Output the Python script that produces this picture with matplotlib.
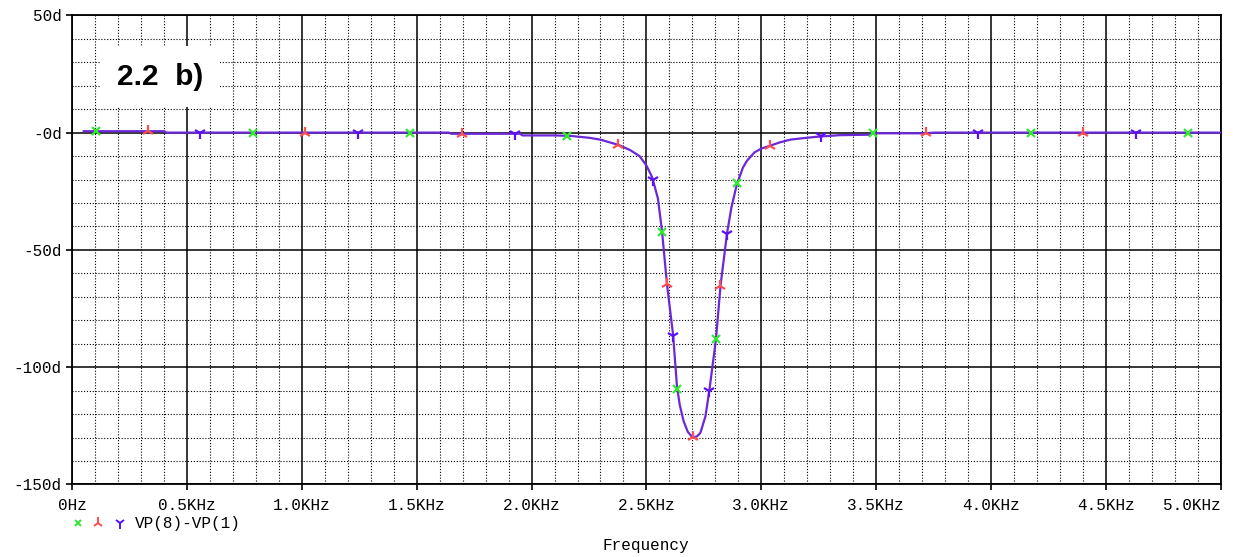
import numpy as np
from matplotlib import pyplot as plt
from matplotlib.ticker import MultipleLocator

# PSpice phase trace
freq_khz = [0.05, 0.40, 0.41, 1.64, 1.65, 1.95, 1.96, 2.10, 2.17, 2.25,
            2.30, 2.38, 2.43, 2.47, 2.50, 2.525, 2.55, 2.568, 2.59, 2.616,
            2.633, 2.645, 2.662, 2.68, 2.701, 2.72, 2.735, 2.757, 2.774, 2.803,
            2.823, 2.851, 2.87, 2.894, 2.92, 2.938, 2.97, 3.0, 3.032, 3.08,
            3.126, 3.18, 3.24, 3.34, 3.47, 3.48, 3.70, 3.76, 5.0]
phase_deg = [0.6, 0.6, 0.0, 0.0, -0.5, -0.5, -1.2, -1.2, -1.4, -2.2,
             -3.0, -5.3, -7.5, -10, -14, -19, -28, -42, -65, -86,
             -108, -116, -123, -127.5, -130, -129.5, -128, -121, -110, -88,
             -65, -43, -32, -22, -15, -12, -8.5, -6.8, -5.8, -4.2,
             -3.0, -2.4, -1.8, -1.1, -0.9, -0.3, -0.3, 0.0, 0.0]

x_ticks = [0, 0.5, 1.0, 1.5, 2.0, 2.5, 3.0, 3.5, 4.0, 4.5, 5.0]
x_labels = ['0Hz', '0.5KHz', '1.0KHz', '1.5KHz', '2.0KHz', '2.5KHz',
            '3.0KHz', '3.5KHz', '4.0KHz', '4.5KHz', '5.0KHz']
y_ticks = [50, 0, -50, -100, -150]
y_labels = ['50d', '-0d', '-50d', '-100d', '-150d']

trace_name = 'VP(8)-VP(1)'
sym_colors = ['#33e833', '#ff4f4f', '#5a10f0']
sym_markers = ['x', '2', '1']
sym_sizes = [6, 9, 9]
line_color = '#6c28d8'

MONO = 'Liberation Mono'

fig = plt.figure(figsize=(12.33, 5.57), dpi=100)
ax = fig.add_axes([0.0586, 0.1302, 0.9313, 0.8423])

ax.set_xlim(0, 5.0)
ax.set_ylim(-150, 50)

# grid: solid majors, dotted minors
ax.xaxis.set_minor_locator(MultipleLocator(0.1))
ax.yaxis.set_minor_locator(MultipleLocator(10))
ax.grid(which='major', color='black', linewidth=1.1)
ax.grid(which='minor', color='black', linewidth=0.8, linestyle=(0, (1, 1.6)))
ax.set_axisbelow(True)

for s in ax.spines.values():
    s.set_linewidth(1.3)
    s.set_color('black')

ax.set_xticks(x_ticks)
ax.set_xticklabels(x_labels, fontfamily=MONO, fontsize=11.5)
ax.set_yticks(y_ticks)
ax.set_yticklabels(y_labels, fontfamily=MONO, fontsize=11.5)
ax.tick_params(which='major', length=4.5, width=1.2, direction='out')
ax.tick_params(axis='x', pad=5)
ax.tick_params(axis='y', pad=3)
ax.tick_params(which='minor', length=0)
ax.get_xticklabels()[-1].set_horizontalalignment('right')

ax.plot(freq_khz, phase_deg, color=line_color, linewidth=1.6, zorder=3)

# symbols every ~52 px of curve length, cycling through the three runs
pts = ax.transData.transform(np.column_stack([freq_khz, phase_deg]))
seg = np.hypot(np.diff(pts[:, 0]), np.diff(pts[:, 1]))
arc = np.concatenate([[0], np.cumsum(seg)])
stops = np.arange(12, arc[-1], 52.45)
px = np.interp(stops, arc, pts[:, 0])
py = np.interp(stops, arc, pts[:, 1])
mk = ax.transData.inverted().transform(np.column_stack([px, py]))
for i in range(3):
    ax.plot(mk[i::3, 0], mk[i::3, 1], linestyle='none', marker=sym_markers[i],
            color=sym_colors[i], markersize=sym_sizes[i], markeredgewidth=1.6, zorder=4)

ax.text(0.0764, 0.869, '2.2  b)', transform=ax.transAxes, ha='center', va='center',
        fontfamily='Liberation Sans', fontweight='bold', fontsize=21.5,
        bbox=dict(facecolor='white', edgecolor='none', pad=12), zorder=5)

# legend row under the axis
for i, xf in enumerate([0.0633, 0.0795, 0.0973]):
    ax.plot([xf], [0.061], transform=fig.transFigure, clip_on=False, linestyle='none',
            marker=sym_markers[i], color=sym_colors[i], markersize=sym_sizes[i] - 1,
            markeredgewidth=1.4)
fig.text(0.1095, 0.061, trace_name, fontfamily=MONO, fontsize=11.5, va='center')
fig.text(0.524, 0.0215, 'Frequency', fontfamily=MONO, fontsize=11.5, ha='center', va='center')

fig.savefig('out.png', dpi=100)
